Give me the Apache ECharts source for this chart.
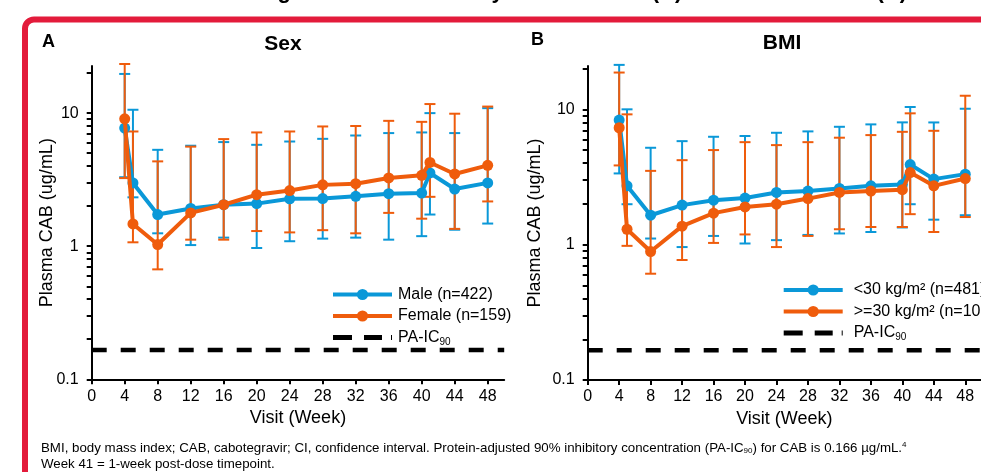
<!DOCTYPE html>
<html>
<head>
<meta charset="utf-8">
<script src="https://cdn.jsdelivr.net/npm/echarts@6/dist/echarts.min.js"></script>
<style>
  html, body { margin: 0; padding: 0; background: #fff; }
  #main { width: 981px; height: 472px; }
</style>
</head>
<body>
<div id="main"></div>
<script>
// visit weeks (week 41 = 1-week post-dose timepoint)
const weeks = [4, 5, 8, 12, 16, 20, 24, 28, 32, 36, 40, 41, 44, 48];
const xTicks = [0, 4, 8, 12, 16, 20, 24, 28, 32, 36, 40, 44, 48];
const yLabels = [0.1, 1, 10];
const yTicks = [0.1, 0.2, 0.3, 0.4, 0.5, 0.6, 0.7, 0.8, 0.9, 1, 2, 3, 4, 5, 6, 7, 8, 9, 10, 20];
const paIC90 = 0.166;

// Panel A: sex
const maleMean = [7.72, 2.99, 1.73, 1.92, 2.05, 2.09, 2.27, 2.28, 2.37, 2.48, 2.51, 3.55, 2.69, 2.99];
const maleLo = [3.3, 2.33, 1.25, 1.02, 1.16, 0.97, 1.09, 1.14, 1.16, 1.12, 1.19, 1.73, 1.33, 1.48];
const maleHi = [19.7, 10.6, 5.3, 5.69, 6.06, 5.78, 6.12, 6.41, 6.79, 7.08, 7.16, 10.0, 7.08, 10.9];
const femaleMean = [9.06, 1.47, 1.03, 1.78, 2.05, 2.44, 2.62, 2.89, 2.95, 3.26, 3.41, 4.26, 3.49, 4.05];
const femaleLo = [3.25, 1.07, 0.67, 1.12, 1.12, 1.30, 1.27, 1.32, 1.25, 1.78, 1.61, 2.35, 1.35, 2.17];
const femaleHi = [23.4, 7.28, 4.34, 5.6, 6.38, 7.16, 7.28, 7.94, 8.0, 8.75, 8.6, 11.7, 9.9, 11.2];

// Panel B: BMI
const bmiLowMean = [8.33, 2.72, 1.65, 1.96, 2.13, 2.21, 2.43, 2.49, 2.6, 2.72, 2.78, 3.91, 3.05, 3.32];
const bmiLowLo = [3.36, 1.99, 1.11, 0.96, 1.16, 1.02, 1.08, 1.18, 1.21, 1.24, 1.34, 1.99, 1.53, 1.65];
const bmiLowHi = [21.3, 10.0, 5.2, 5.82, 6.27, 6.35, 6.71, 6.87, 7.43, 7.74, 8.01, 10.4, 8.0, 10.1];
const bmiHighMean = [7.31, 1.30, 0.89, 1.37, 1.71, 1.90, 1.99, 2.19, 2.43, 2.49, 2.55, 3.41, 2.72, 3.08];
const bmiHighLo = [3.85, 0.98, 0.61, 0.77, 1.03, 1.19, 0.96, 1.16, 1.3, 1.35, 1.35, 1.68, 1.24, 1.6];
const bmiHighHi = [18.7, 9.18, 3.51, 4.21, 5.0, 5.72, 5.44, 5.72, 6.17, 6.45, 6.82, 9.34, 6.94, 12.6];

const BLUE = '#0a98d8';
const ORANGE = '#ef5c0c';
const FONT = '"Liberation Sans", Arial, sans-serif';
const DASH_ICON = 'path://M0,0h19v5h-19z M31,0h18v5h-18z M58,0h1v5h-1z';

const chart = echarts.init(document.getElementById('main'), null, { renderer: 'canvas' });

function pairs(ys) {
  return weeks.map((w, i) => [w, ys[i]]);
}
function bars(lo, hi) {
  return weeks.map((w, i) => [w, lo[i], hi[i]]);
}

function errBar(params, api) {
  const x = api.value(0);
  const lo = api.coord([x, api.value(1)]);
  const hi = api.coord([x, api.value(2)]);
  const w = 5.5;
  const style = { stroke: api.visual('color'), lineWidth: 2 };
  return {
    type: 'group',
    children: [
      { type: 'line', shape: { x1: lo[0], y1: lo[1], x2: hi[0], y2: hi[1] }, style },
      { type: 'line', shape: { x1: lo[0] - w, y1: lo[1], x2: lo[0] + w, y2: lo[1] }, style },
      { type: 'line', shape: { x1: hi[0] - w, y1: hi[1], x2: hi[0] + w, y2: hi[1] }, style }
    ]
  };
}

function xAxis(gridIndex) {
  return {
    type: 'value', gridIndex, min: 0, max: 50, interval: 4,
    name: 'Visit (Week)', nameLocation: 'middle', nameGap: 26,
    nameTextStyle: { fontFamily: FONT, fontSize: 18, color: '#000' },
    axisLine: { lineStyle: { color: '#000', width: 2 } },
    axisTick: { length: 5, lineStyle: { color: '#000', width: 2 }, customValues: xTicks },
    axisLabel: { fontFamily: FONT, fontSize: 16, color: '#000', margin: 9, customValues: xTicks },
    splitLine: { show: false }
  };
}

function yAxis(gridIndex, max, gap) {
  return {
    type: 'log', logBase: 10, gridIndex, min: 0.1, max,
    name: 'Plasma CAB (ug/mL)', nameLocation: 'middle', nameGap: gap, nameMoveOverlap: false,
    nameTextStyle: { fontFamily: FONT, fontSize: 18, color: '#000' },
    axisLine: { lineStyle: { color: '#000', width: 2 } },
    axisTick: { length: 5, lineStyle: { color: '#000', width: 2 }, customValues: yTicks },
    axisLabel: { fontFamily: FONT, fontSize: 16, color: '#000', margin: 13, customValues: yLabels },
    splitLine: { show: false }
  };
}

function panelSeries(idx, names, means, los, his) {
  const colors = [BLUE, ORANGE];
  const out = [];
  for (let k = 0; k < 2; k++) {
    out.push({
      type: 'custom', name: names[k] + ' CI', xAxisIndex: idx, yAxisIndex: idx,
      renderItem: errBar, itemStyle: { color: colors[k] },
      encode: { x: 0, y: [1, 2] }, data: bars(los[k], his[k]), z: 2, silent: true
    });
  }
  for (let k = 0; k < 2; k++) {
    out.push({
      type: 'line', name: names[k], xAxisIndex: idx, yAxisIndex: idx,
      data: pairs(means[k]), symbol: 'circle', symbolSize: 11,
      itemStyle: { color: colors[k] }, lineStyle: { color: colors[k], width: 4 },
      z: 3 + k
    });
  }
  out.push({
    type: 'line', name: 'PA-IC90', xAxisIndex: idx, yAxisIndex: idx,
    data: [[0, paIC90], [50, paIC90]], symbol: 'none',
    itemStyle: { color: '#000' },
    lineStyle: { color: '#000', width: 4.5, type: [15, 14] }, z: 2
  });
  return out;
}

function legendFor(left, top, names, pad) {
  return {
    orient: 'vertical', left, top, itemWidth: 59, itemHeight: 14, itemGap: 5.5,
    data: names.concat([{ name: 'PA-IC90', icon: DASH_ICON }]),
    lineStyle: { width: 4 },
    textStyle: {
      fontFamily: FONT, fontSize: 16, color: '#000', padding: [0, 0, 0, pad],
      rich: { s: { fontFamily: FONT, fontSize: 10, padding: [9, 0, 0, 0] } }
    },
    formatter: name => name === 'PA-IC90' ? 'PA-IC{s|90}' : name,
    selectedMode: false
  };
}

const namesA = ['Male (n=422)', 'Female (n=159)'];
const namesB = ['<30 kg/m² (n=481)', '>=30 kg/m² (n=100)'];

const option = {
  animation: false,
  backgroundColor: '#fff',
  grid: [
    { left: 91.7, top: 66, width: 412.5, height: 313.3 },
    { left: 587.7, top: 66, width: 409, height: 314 }
  ],
  xAxis: [xAxis(0), xAxis(1)],
  yAxis: [yAxis(0, 22.6, 36), yAxis(1, 20.9, 43.5)],
  legend: [legendFor(326, 281.5, namesA, 1), legendFor(776.7, 277, namesB, 6)],
  series: panelSeries(0, namesA, [maleMean, femaleMean], [maleLo, femaleLo], [maleHi, femaleHi])
    .concat(panelSeries(1, namesB, [bmiLowMean, bmiHighMean], [bmiLowLo, bmiHighLo], [bmiLowHi, bmiHighHi])),
  graphic: [
    {
      type: 'rect', z: -1, silent: true,
      shape: { x: 25, y: 19.5, width: 1100, height: 700, r: 9 },
      style: { fill: 'none', stroke: '#e31b3b', lineWidth: 6 }
    },
    {
      type: 'text', left: 93, top: -19,
      style: {
        text: 'Plasma CAB Trough Concentrations by Baseline Sex (A) and Baseline BMI (B)',
        font: 'bold 22px ' + FONT, fill: '#000'
      }
    },
    { type: 'text', x: 48.5, y: 42, style: { text: 'A', font: 'bold 18px ' + FONT, fill: '#000', align: 'center', verticalAlign: 'middle' } },
    { type: 'text', x: 537.5, y: 40, style: { text: 'B', font: 'bold 18px ' + FONT, fill: '#000', align: 'center', verticalAlign: 'middle' } },
    { type: 'text', x: 283, y: 44, style: { text: 'Sex', font: 'bold 21px ' + FONT, fill: '#000', align: 'center', verticalAlign: 'middle' } },
    { type: 'text', x: 782, y: 43, style: { text: 'BMI', font: 'bold 21px ' + FONT, fill: '#000', align: 'center', verticalAlign: 'middle' } },
    {
      type: 'text', left: 41, top: 440,
      style: {
        text: 'BMI, body mass index; CAB, cabotegravir; CI, confidence interval. Protein-adjusted 90% inhibitory concentration (PA-IC{s|90}) for CAB is 0.166 µg/mL.{p|4}\nWeek 41 = 1-week post-dose timepoint.',
        fontFamily: FONT, fontSize: 13.3, fill: '#000', lineHeight: 16,
        rich: {
          s: { fontFamily: FONT, fontSize: 8, padding: [6, 0, 0, 0] },
          p: { fontFamily: FONT, fontSize: 8, padding: [0, 0, 7, 0] }
        }
      }
    }
  ]
};

chart.setOption(option);
</script>
</body>
</html>
